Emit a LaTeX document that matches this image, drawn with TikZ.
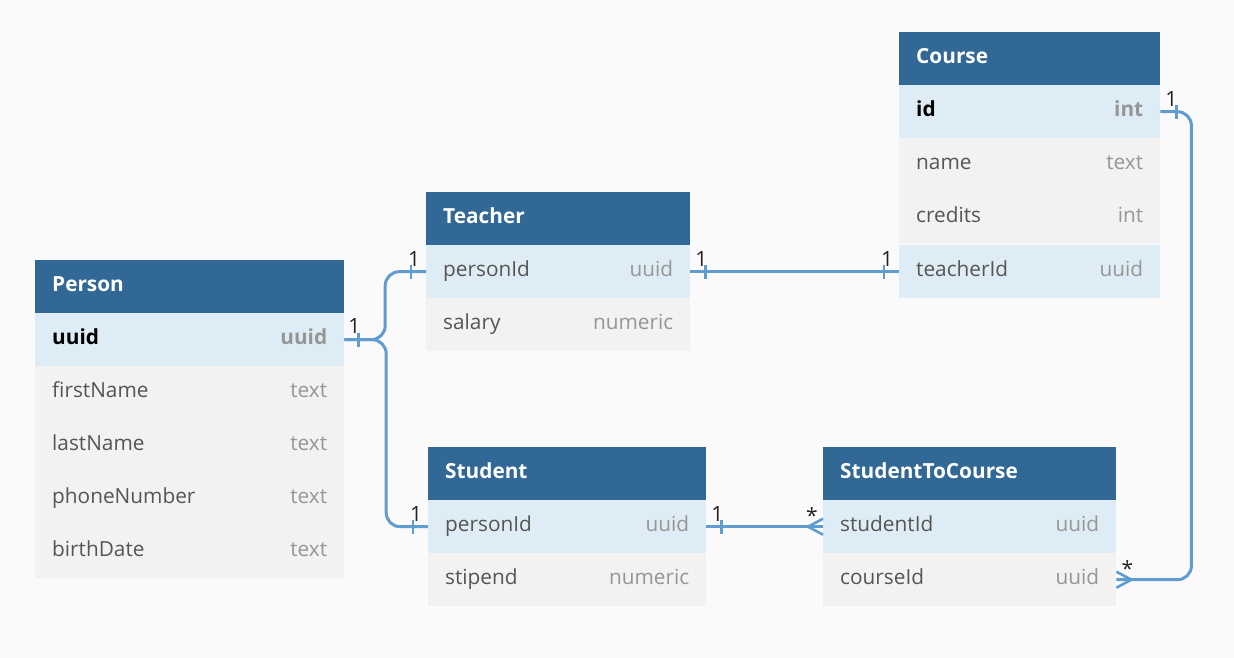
\documentclass[tikz,border=0pt]{standalone}
\usepackage{fontspec}
\setmainfont{Open Sans}
\usetikzlibrary{calc}
\definecolor{bgc}{RGB}{250,250,250}
\definecolor{hdrc}{RGB}{49,104,150}
\definecolor{keyc}{RGB}{222,237,245}
\definecolor{rowc}{RGB}{242,242,242}
\definecolor{linec}{RGB}{96,156,208}
\definecolor{fieldc}{RGB}{85,85,85}
\definecolor{typec}{RGB}{150,150,150}
\definecolor{labc}{RGB}{34,34,34}
\begin{document}
\begin{tikzpicture}[x=1pt,y=-1pt,
  cell/.style={anchor=north west, minimum height=53pt, inner xsep=17pt, inner ysep=0pt,
    text width=#1, font=\fontsize{20.8}{25}\selectfont, text=fieldc},
  hdr/.style={cell=#1, fill=hdrc, text=white, font=\fontsize{20.8}{25}\selectfont\bfseries},
  keyrow/.style={cell=#1, fill=keyc},
  plainrow/.style={cell=#1, fill=rowc},
  conn/.style={draw=linec, line width=3pt, rounded corners=14pt},
  tick/.style={draw=linec, line width=2.6pt},
  lab/.style={font=\fontsize{21}{25}\selectfont, text=labc, inner sep=0pt}]
\useasboundingbox[fill=bgc] (0,0) rectangle (1234,658);

% Person
\node[hdr=275pt] (ph) at (35,260) {\strut Person};
\node[keyrow=275pt] (pu) at (35,313) {\strut\textcolor{black}{\bfseries uuid}\hfill\textcolor{typec}{\bfseries uuid}};
\node[plainrow=275pt] (pf) at (35,366) {\strut firstName\hfill\textcolor{typec}{text}};
\node[plainrow=275pt] (pl) at (35,419) {\strut lastName\hfill\textcolor{typec}{text}};
\node[plainrow=275pt] (pn) at (35,472) {\strut phoneNumber\hfill\textcolor{typec}{text}};
\node[plainrow=275pt] (pb) at (35,525) {\strut birthDate\hfill\textcolor{typec}{text}};

% Teacher
\node[hdr=230pt] (th) at (426,192) {\strut Teacher};
\node[keyrow=230pt] (tp) at (426,245) {\strut personId\hfill\textcolor{typec}{uuid}};
\node[plainrow=230pt] (ts) at (426,298) {\strut salary\hfill\textcolor{typec}{numeric}};

% Course
\node[hdr=227pt] (ch) at (899,32) {\strut Course};
\node[keyrow=227pt] (ci) at (899,85) {\strut\textcolor{black}{\bfseries id}\hfill\textcolor{typec}{\bfseries int}};
\node[plainrow=227pt] (cn) at (899,138) {\strut name\hfill\textcolor{typec}{text}};
\node[plainrow=227pt] (cc) at (899,191) {\strut credits\hfill\textcolor{typec}{int}};
\node[keyrow=227pt] (ct) at (899,245) {\strut teacherId\hfill\textcolor{typec}{uuid}};

% Student
\node[hdr=244pt] (sh) at (428,447) {\strut Student};
\node[keyrow=244pt] (sp) at (428,500) {\strut personId\hfill\textcolor{typec}{uuid}};
\node[plainrow=244pt] (ss) at (428,553) {\strut stipend\hfill\textcolor{typec}{numeric}};

% StudentToCourse
\node[hdr=259pt] (xh) at (823,447) {\strut StudentToCourse};
\node[keyrow=259pt] (xs) at (823,500) {\strut studentId\hfill\textcolor{typec}{uuid}};
\node[plainrow=259pt] (xc) at (823,553) {\strut courseId\hfill\textcolor{typec}{uuid}};

% Connectors
\draw[conn] (pu.east) -| ($(pu.east)!0.5!(tp.west)$) |- (tp.west);
\draw[conn] (pu.east) -| ($(pu.east)!0.5!(sp.west)$) |- (sp.west);
\draw[conn] (tp.east) -- (ct.west);
\draw[conn] (sp.east) -- (xs.west);
\draw[conn] (ci.east) -- ++(31,0) |- (xc.east);

% ticks
\draw[tick] ($(pu.east)+(14,-7)$) -- ++(0,14);
\draw[tick] ($(tp.west)+(-15,-7)$) -- ++(0,14);
\draw[tick] ($(sp.west)+(-15,-7)$) -- ++(0,14);
\draw[tick] ($(tp.east)+(15,-7)$) -- ++(0,14);
\draw[tick] ($(ct.west)+(-15,-7)$) -- ++(0,14);
\draw[tick] ($(sp.east)+(15,-7)$) -- ++(0,14);
\draw[tick] ($(ci.east)+(16,-7)$) -- ++(0,14);

% crow's feet
\draw[tick] ($(xs.west)+(0,-8)$) -- ($(xs.west)+(-15,0)$) -- ($(xs.west)+(0,8)$);
\draw[tick] ($(xc.east)+(0,-8)$) -- ($(xc.east)+(15,0)$) -- ($(xc.east)+(0,8)$);

% labels
\node[lab] (l1) at ($(pu.east)+(10,-14)$) {1};
\node[lab] (l2) at ($(tp.west)+(-12,-13)$) {1};
\node[lab] (l3) at ($(sp.west)+(-12,-13)$) {1};
\node[lab] (l4) at ($(tp.east)+(11,-13)$) {1};
\node[lab] (l5) at ($(ct.west)+(-12,-13)$) {1};
\node[lab] (l6) at ($(sp.east)+(11,-13)$) {1};
\node[lab] (l7) at ($(xs.west)+(-11,-11)$) {*};
\node[lab] (l8) at ($(ci.east)+(11,-13)$) {1};
\node[lab] (l9) at ($(xc.east)+(11,-11)$) {*};
\end{tikzpicture}
\end{document}
